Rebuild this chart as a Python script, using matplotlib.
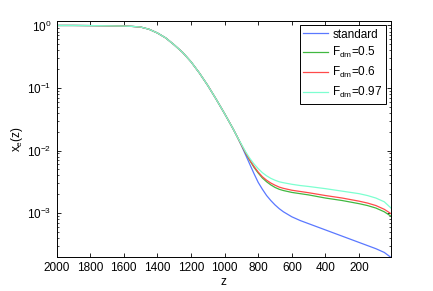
import matplotlib
matplotlib.use("Agg")
import matplotlib.pyplot as plt
import numpy as np

# shared part of the curves (all four overlap above z ~ 900), log10(x_e)
z_common = [2000, 1900, 1800, 1700, 1600, 1550, 1500, 1450, 1400, 1350,
            1300, 1250, 1200, 1150, 1100, 1050, 1000, 950, 925]
log_common = [0.0, 0.0, -0.002, -0.005, -0.01, -0.015, -0.025, -0.06, -0.12, -0.2,
              -0.31, -0.43, -0.58, -0.76, -0.96, -1.18, -1.41, -1.65, -1.78]

z_tail = [900, 875, 850, 825, 800, 775, 750, 725, 700, 675, 650, 600,
          550, 500, 400, 300, 200, 150, 100, 50, 10]
log_standard = [-1.92, -2.07, -2.22, -2.37, -2.51, -2.62, -2.72, -2.80, -2.87, -2.93, -2.98, -3.06,
                -3.12, -3.17, -3.27, -3.37, -3.47, -3.52, -3.57, -3.63, -3.71]
log_fdm_05 = [-1.91, -2.04, -2.16, -2.27, -2.36, -2.44, -2.50, -2.55, -2.59, -2.62, -2.64, -2.67,
              -2.69, -2.71, -2.76, -2.80, -2.85, -2.88, -2.92, -2.98, -3.05]
log_fdm_06 = [-1.91, -2.035, -2.15, -2.255, -2.345, -2.42, -2.475, -2.52, -2.555, -2.585, -2.605, -2.635,
              -2.655, -2.675, -2.72, -2.76, -2.81, -2.84, -2.88, -2.94, -3.01]
log_fdm_097 = [-1.90, -2.02, -2.125, -2.215, -2.29, -2.355, -2.405, -2.445, -2.475, -2.50, -2.515, -2.54,
               -2.56, -2.575, -2.61, -2.65, -2.69, -2.72, -2.76, -2.82, -2.92]

series = [
    ("standard", log_standard, "#5a78ff"),
    ("F$_{\\rm dm}$=0.5", log_fdm_05, "#40b840"),
    ("F$_{\\rm dm}$=0.6", log_fdm_06, "#ff4a4a"),
    ("F$_{\\rm dm}$=0.97", log_fdm_097, "#7dffd0"),
]

plt.rcParams["font.family"] = ["Liberation Sans", "DejaVu Sans"]
plt.rcParams["mathtext.fontset"] = "custom"
plt.rcParams["mathtext.rm"] = "Liberation Sans"
plt.rcParams["mathtext.it"] = "Liberation Sans:italic"

fig = plt.figure(figsize=(4.33, 2.91), dpi=100)
ax = fig.add_axes([0.1305, 0.1158, 0.7725, 0.8137])

z_all = np.array(z_common + z_tail)
for label, tail, color in series:
    y = 10.0 ** np.array(log_common + tail)
    ax.plot(z_all, y, color=color, lw=0.9, label=label)

ax.set_yscale("log")
ax.set_xlim(2000, 10)
ax.set_ylim(1.96e-4, 1.2)
ax.set_xticks(range(200, 2001, 200))
ax.set_xticklabels([str(v) for v in range(200, 2001, 200)])
ax.tick_params(which="both", direction="in", top=True, right=True, labelsize=8.5)
ax.tick_params(which="major", length=3, width=0.6)
ax.tick_params(which="minor", length=1.5, width=0.5)
ax.tick_params(axis="x", which="minor", top=False, bottom=False)
for s in ax.spines.values():
    s.set_linewidth(0.7)

ax.set_xlabel("z", fontsize=8.5, labelpad=1)
ax.set_ylabel("x$_{\\rm e}$(z)", fontsize=8.5, labelpad=2)

leg = ax.legend(loc="upper right", bbox_to_anchor=(0.985, 0.981), borderaxespad=0,
                fancybox=False, edgecolor="black", framealpha=1, fontsize=8.5,
                handlelength=2.1, handletextpad=0.35, labelspacing=0.4,
                borderpad=0.3)
leg.get_frame().set_linewidth(0.7)

fig.savefig("out.png", dpi=100)
